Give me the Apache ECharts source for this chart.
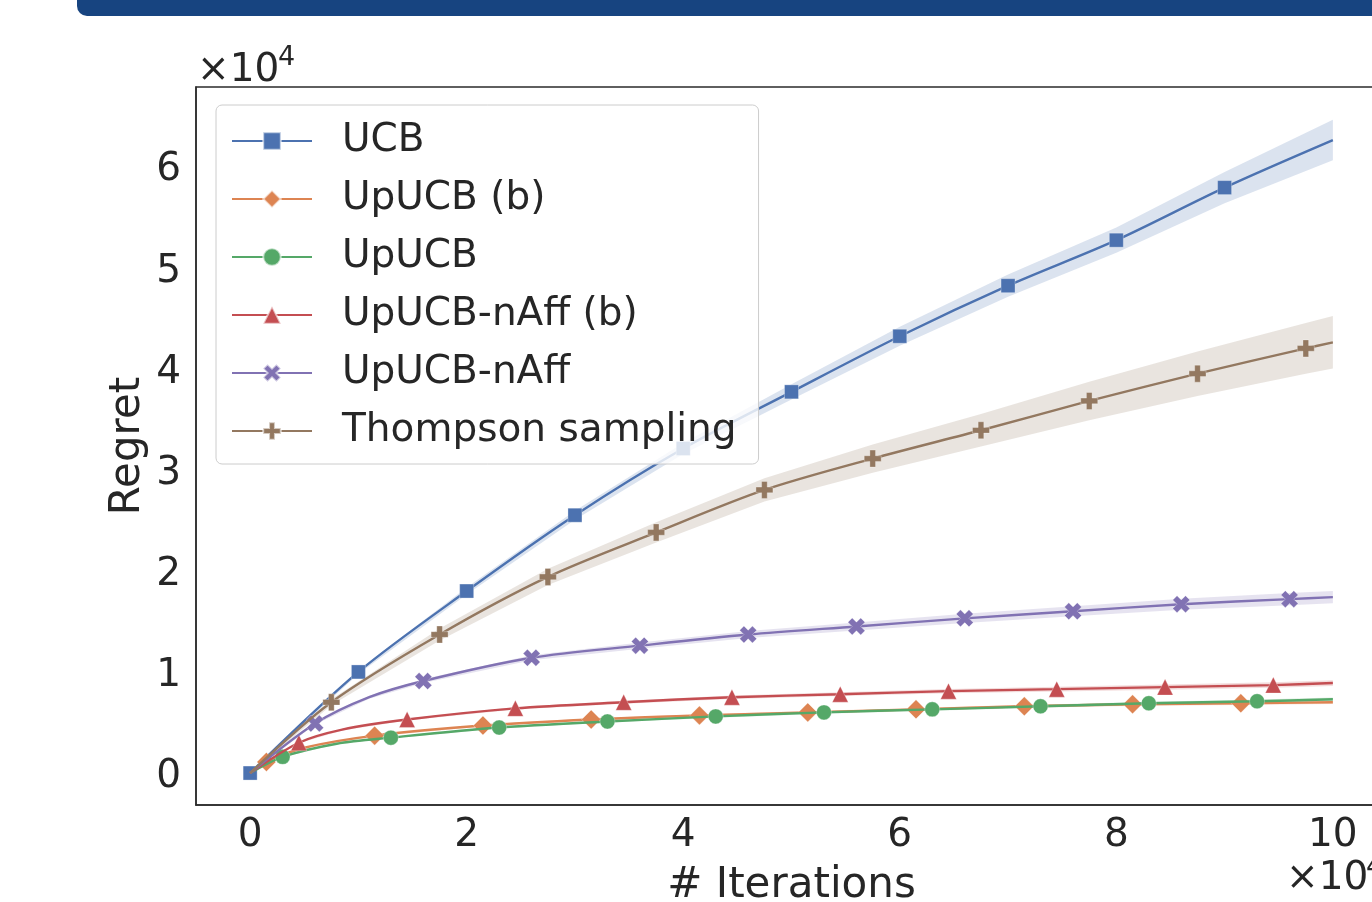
<!DOCTYPE html>
<html>
<head>
<meta charset="utf-8">
<script src="https://cdn.jsdelivr.net/npm/echarts@6/dist/echarts.min.js"></script>
<style>
  html, body { margin: 0; padding: 0; background: #fff; }
  #chart { width: 1372px; height: 902px; }
</style>
</head>
<body>
<div id="chart"></div>
<script>
// regret curves, sampled at the marker iterations plus a few extra points
const itersUCB = [0, 10000, 20000, 30000, 40000, 50000, 60000, 70000, 80000, 90000, 100000]
const regretUCB = [0, 10000, 18000, 25500, 32100, 37700, 43200, 48200, 52700, 57900, 62600]
const bandUCB = [0, 200, 350, 450, 550, 750, 950, 1100, 1250, 1550, 2000]

const itersUpB = [0, 1500, 5000, 11500, 21500, 31500, 41500, 51500, 61500, 71500, 81500, 91500, 100000]
const regretUpB = [0, 1100, 2500, 3700, 4700, 5300, 5700, 6000, 6300, 6600, 6800, 6900, 7000]
const bandUpB = [0, 40, 60, 80, 100, 110, 120, 130, 140, 150, 160, 170, 180]

const itersUp = [0, 3000, 8000, 13000, 23000, 33000, 43000, 53000, 63000, 73000, 83000, 93000, 100000]
const regretUp = [0, 1600, 2900, 3500, 4500, 5100, 5600, 6000, 6300, 6600, 6900, 7100, 7300]
const bandUp = [0, 40, 60, 80, 100, 110, 120, 130, 140, 150, 160, 170, 180]

const itersNaffB = [0, 4500, 8500, 14500, 24500, 34500, 44500, 54500, 64500, 74500, 84500, 94500, 100000]
const regretNaffB = [0, 3000, 4300, 5300, 6400, 7000, 7500, 7800, 8100, 8300, 8500, 8700, 8900]
const bandNaffB = [0, 50, 80, 100, 120, 150, 170, 190, 210, 230, 250, 270, 280]

const itersNaff = [0, 6000, 11000, 16000, 26000, 36000, 46000, 56000, 66000, 76000, 86000, 96000, 100000]
const regretNaff = [0, 4900, 7500, 9100, 11400, 12600, 13700, 14500, 15300, 16000, 16700, 17200, 17400]
const bandNaff = [0, 100, 150, 200, 250, 300, 350, 400, 450, 500, 550, 600, 600]

const itersTS = [0, 7500, 17500, 27500, 37500, 47500, 57500, 67500, 77500, 87500, 97500, 100000]
const regretTS = [0, 7000, 13700, 19400, 23800, 28000, 31100, 33900, 36800, 39500, 42000, 42600]
const bandTS = [0, 300, 600, 800, 1000, 1150, 1400, 1600, 1900, 2200, 2500, 2600]

const names = ['UCB', 'UpUCB (b)', 'UpUCB', 'UpUCB-nAff (b)', 'UpUCB-nAff', 'Thompson sampling']

const palette = ['#4C72B0', '#DD8452', '#55A868', '#C44E52', '#8172B3', '#937860']
const xMarker = 'path://M2,-4L4,-2L2,0L4,2L2,4L0,2L-2,4L-4,2L-2,0L-4,-2L-2,-4L0,-2Z'
const plusMarker = 'path://M-1,-3L1,-3L1,-1L3,-1L3,1L1,1L1,3L-1,3L-1,1L-3,1L-3,-1L-1,-1Z'

const curves = [
  { xs: itersUCB, ys: regretUCB, hw: bandUCB, symbol: 'rect', size: 14, start: 0 },
  { xs: itersUpB, ys: regretUpB, hw: bandUpB, symbol: 'diamond', size: 19, start: 1500 },
  { xs: itersUp, ys: regretUp, hw: bandUp, symbol: 'circle', size: 15, start: 3000 },
  { xs: itersNaffB, ys: regretNaffB, hw: bandNaffB, symbol: 'triangle', size: 16, start: 4500 },
  { xs: itersNaff, ys: regretNaff, hw: bandNaff, symbol: xMarker, size: 17, start: 6000 },
  { xs: itersTS, ys: regretTS, hw: bandTS, symbol: plusMarker, size: 17, start: 7500 },
]

const textColor = '#262626'
const font = 'DejaVu Sans'

function isMarker(x, start) {
  return x >= start && x < 100000 && (x - start) % 10000 === 0
}

const series = []
curves.forEach((c, k) => {
  // shaded band behind the line
  series.push({
    type: 'custom',
    name: names[k] + ' band',
    silent: true,
    z: 1,
    data: [[0, 0]],
    renderItem: (params, api) => {
      const top = c.xs.map((x, i) => api.coord([x, c.ys[i] + c.hw[i]]))
      const bottom = c.xs.map((x, i) => api.coord([x, c.ys[i] - c.hw[i]])).reverse()
      return {
        type: 'polygon',
        shape: { points: top.concat(bottom) },
        style: { fill: palette[k], opacity: 0.2 },
      }
    },
  })
})
curves.forEach((c, k) => {
  series.push({
    type: 'line',
    name: names[k],
    z: 3 + k,
    smooth: 0.3,
    symbol: c.symbol,
    symbolSize: c.size,
    showSymbol: true,
    color: palette[k],
    lineStyle: { width: 2.4, color: palette[k] },
    itemStyle: { color: palette[k], borderColor: 'rgba(255,255,255,0.6)', borderWidth: 0.5 },
    emphasis: { disabled: true },
    data: c.xs.map((x, i) => ({
      value: [x, c.ys[i]],
      symbolSize: isMarker(x, c.start) ? c.size : 0,
    })),
  })
})

const chart = echarts.init(document.getElementById('chart'))
chart.setOption({
  animation: false,
  textStyle: { fontFamily: font, color: textColor },
  grid: {
    left: 196,
    top: 87,
    width: 1191,
    height: 718,
    outerBoundsMode: 'none',
    containLabel: false,
    show: true,
    borderColor: '#2b2b2b',
    borderWidth: 1.5,
    backgroundColor: 'transparent',
  },
  xAxis: {
    type: 'value',
    min: -5000,
    max: 105000,
    splitNumber: 5,
    name: '# Iterations',
    nameLocation: 'middle',
    nameGap: 60,
    nameTextStyle: { fontSize: 42, color: textColor, fontFamily: font },
    axisLine: { show: true, onZero: false, lineStyle: { color: '#2b2b2b', width: 1.5 } },
    axisTick: { show: false },
    splitLine: { show: false },
    axisLabel: {
      fontSize: 39,
      color: textColor,
      fontFamily: font,
      margin: 11,
      showMinLabel: false,
      showMaxLabel: false,
      formatter: (v) => String(Math.round(v / 10000)),
    },
  },
  yAxis: {
    type: 'value',
    min: -3160,
    max: 67850,
    splitNumber: 7,
    name: 'Regret',
    nameLocation: 'middle',
    nameGap: 47,
    nameMoveOverlap: false,
    nameTextStyle: { fontSize: 42, color: textColor, fontFamily: font },
    axisLine: { show: true, onZero: false, lineStyle: { color: '#2b2b2b', width: 1.5 } },
    axisTick: { show: false },
    splitLine: { show: false },
    axisLabel: {
      color: textColor,
      fontFamily: font,
      margin: 15,
      showMinLabel: false,
      showMaxLabel: false,
      formatter: (v) => '{n|' + Math.round(v / 10000) + '}',
      rich: {
        n: { fontSize: 39, fontFamily: font, color: textColor, padding: [8, 0, 0, 0] },
      },
    },
  },
  legend: {
    data: names,
    orient: 'vertical',
    left: 216,
    top: 105,
    padding: [16, 22, 13, 15],
    itemWidth: 80,
    itemHeight: 22,
    itemGap: 18,
    backgroundColor: 'rgba(255,255,255,0.8)',
    borderColor: '#cccccc',
    borderWidth: 1,
    borderRadius: 6,
    selectedMode: false,
    textStyle: {
      fontSize: 39,
      lineHeight: 40,
      color: textColor,
      fontFamily: font,
      padding: [0, 0, 0, 25],
    },
  },
  graphic: [
    {
      type: 'rect',
      shape: { x: 77, y: -20, width: 1400, height: 36, r: [0, 0, 0, 10] },
      style: { fill: '#174480' },
      z: 10,
    },
    {
      type: 'text',
      x: 197,
      y: 71,
      style: { text: '×10', font: '39px "DejaVu Sans"', fill: textColor, verticalAlign: 'middle' },
    },
    {
      type: 'text',
      x: 278,
      y: 58,
      style: { text: '4', font: '27px "DejaVu Sans"', fill: textColor, verticalAlign: 'middle' },
    },
    {
      type: 'text',
      x: 1286,
      y: 879,
      style: { text: '×10', font: '39px "DejaVu Sans"', fill: textColor, verticalAlign: 'middle' },
    },
    {
      type: 'text',
      x: 1366,
      y: 868,
      style: { text: '4', font: '27px "DejaVu Sans"', fill: textColor, verticalAlign: 'middle' },
    },
  ],
  series: series,
})
</script>
</body>
</html>
